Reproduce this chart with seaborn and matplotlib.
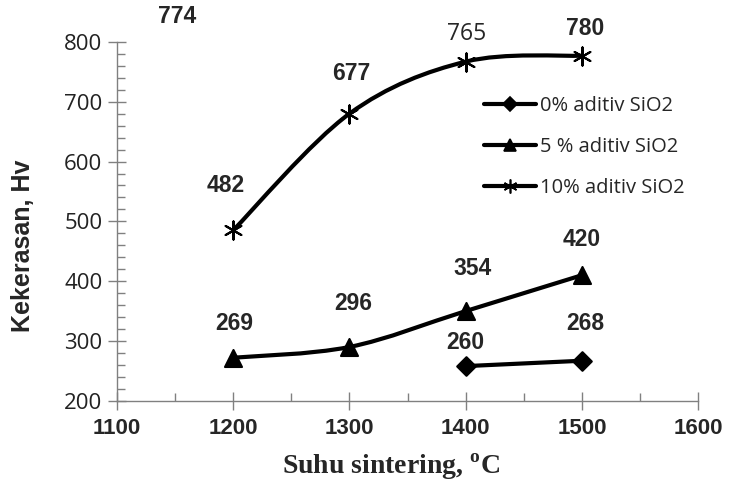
import numpy as np
import pandas as pd
import seaborn as sns
import matplotlib.pyplot as plt
from matplotlib.path import Path
from matplotlib.patches import PathPatch
from matplotlib.lines import Line2D
from matplotlib.ticker import MultipleLocator

# data
suhu_0 = [1400, 1500]
hv_0 = [258, 267]
suhu_5 = [1200, 1300, 1400, 1500]
hv_5 = [272, 290, 350, 410]
suhu_10 = [1200, 1300, 1400, 1500]
hv_10 = [485, 680, 767, 777]

series_names = ['0% aditiv SiO2', '5 % aditiv SiO2', '10% aditiv SiO2']

# data labels as printed on the chart: (text, x, y, bold)
label_text = ['774', '482', '677', '765', '780', '269', '296', '354', '420', '260', '268']
label_x = [1152, 1194, 1302, 1401, 1503, 1201, 1303, 1406, 1500, 1400, 1503]
label_y = [842, 560, 748, 813, 822, 330, 362, 422, 469, 298, 330]
label_bold = [True, True, True, False, True, True, True, True, True, True, True]

sns.set_style('ticks')
plt.rcParams['font.family'] = ['Liberation Sans', 'DejaVu Sans']

fig = plt.figure(figsize=(7.35, 4.93), dpi=100)
ax = fig.add_axes([0.159, 0.187, 0.791, 0.728])


def smooth_curve(ax, xs, ys):
    # excel-like smoothed line (catmull-rom as bezier)
    pts = np.column_stack([xs, ys]).astype(float)
    ext = np.vstack([pts[0], pts, pts[-1]])
    verts = [pts[0]]
    codes = [Path.MOVETO]
    for i in range(1, len(ext) - 2):
        p0, p1, p2, p3 = ext[i - 1], ext[i], ext[i + 1], ext[i + 2]
        verts += [p1 + (p2 - p0) / 6, p2 - (p3 - p1) / 6, p2]
        codes += [Path.CURVE4] * 3
    ax.add_patch(PathPatch(Path(verts, codes), fill=False, lw=3, ec='black',
                           capstyle='round', joinstyle='round', zorder=2))


star = (6, 2, 0)
markers = ['D', '^', star]
msizes = [90, 150, 170]
for xs, ys, m, s in zip([suhu_0, suhu_5, suhu_10], [hv_0, hv_5, hv_10], markers, msizes):
    smooth_curve(ax, xs, ys)
    df = pd.DataFrame({'x': xs, 'y': ys})
    sns.scatterplot(data=df, x='x', y='y', marker=m, s=s, color='black',
                    edgecolor='black', linewidth=1.5, ax=ax, zorder=3, legend=False)

ax.set_xlim(1100, 1600)
ax.set_ylim(200, 800)
ax.xaxis.set_major_locator(MultipleLocator(100))
ax.xaxis.set_minor_locator(MultipleLocator(50))
ax.yaxis.set_major_locator(MultipleLocator(100))
ax.yaxis.set_minor_locator(MultipleLocator(20))
ax.tick_params(axis='both', which='major', direction='inout', length=13, width=1, color='#808080')
ax.tick_params(axis='both', which='minor', direction='in', length=6, width=1, color='#808080')
ax.tick_params(axis='x', which='major', pad=6)
ax.tick_params(axis='y', which='major', pad=4)
for sp in ['top', 'right']:
    ax.spines[sp].set_visible(False)
for sp in ['left', 'bottom']:
    ax.spines[sp].set_color('#808080')
    ax.spines[sp].set_linewidth(1)

for t in ax.get_yticklabels():
    t.set_fontsize(16)
    t.set_family(['Open Sans', 'DejaVu Sans'])
    t.set_color('#222222')
for t in ax.get_xticklabels():
    t.set_fontsize(16)
    t.set_fontweight('bold')
    t.set_family(['Liberation Sans Narrow', 'Liberation Sans'])

ax.set_xlabel('Suhu sintering, $^{\\mathregular{o}}$C', fontsize=20, fontweight='bold',
              family=['Liberation Serif'], va='center')
ax.xaxis.set_label_coords(0.4716, -0.184)
ax.set_ylabel('Kekerasan, Hv', fontsize=18, fontweight='bold', va='center')
ax.yaxis.set_label_coords(-0.162, 0.432)

for txt, x, y, b in zip(label_text, label_x, label_y, label_bold):
    ax.text(x, y, txt, ha='center', va='center', fontsize=16.5,
            fontweight='bold' if b else 'normal', clip_on=False,
            family=['Liberation Sans'] if b else ['Open Sans'])

handles = [Line2D([], [], color='black', lw=3, marker=m, markersize=ms, markeredgewidth=1.2)
           for m, ms in zip(markers, [7, 9, 10])]
leg = ax.legend(handles, series_names, loc='upper left', bbox_to_anchor=(0.6, 0.9),
                frameon=False, handlelength=2.6, handletextpad=0.2, labelspacing=1.05,
                prop={'family': ['Open Sans'], 'size': 14.5})

fig.savefig('out.png', dpi=100)
